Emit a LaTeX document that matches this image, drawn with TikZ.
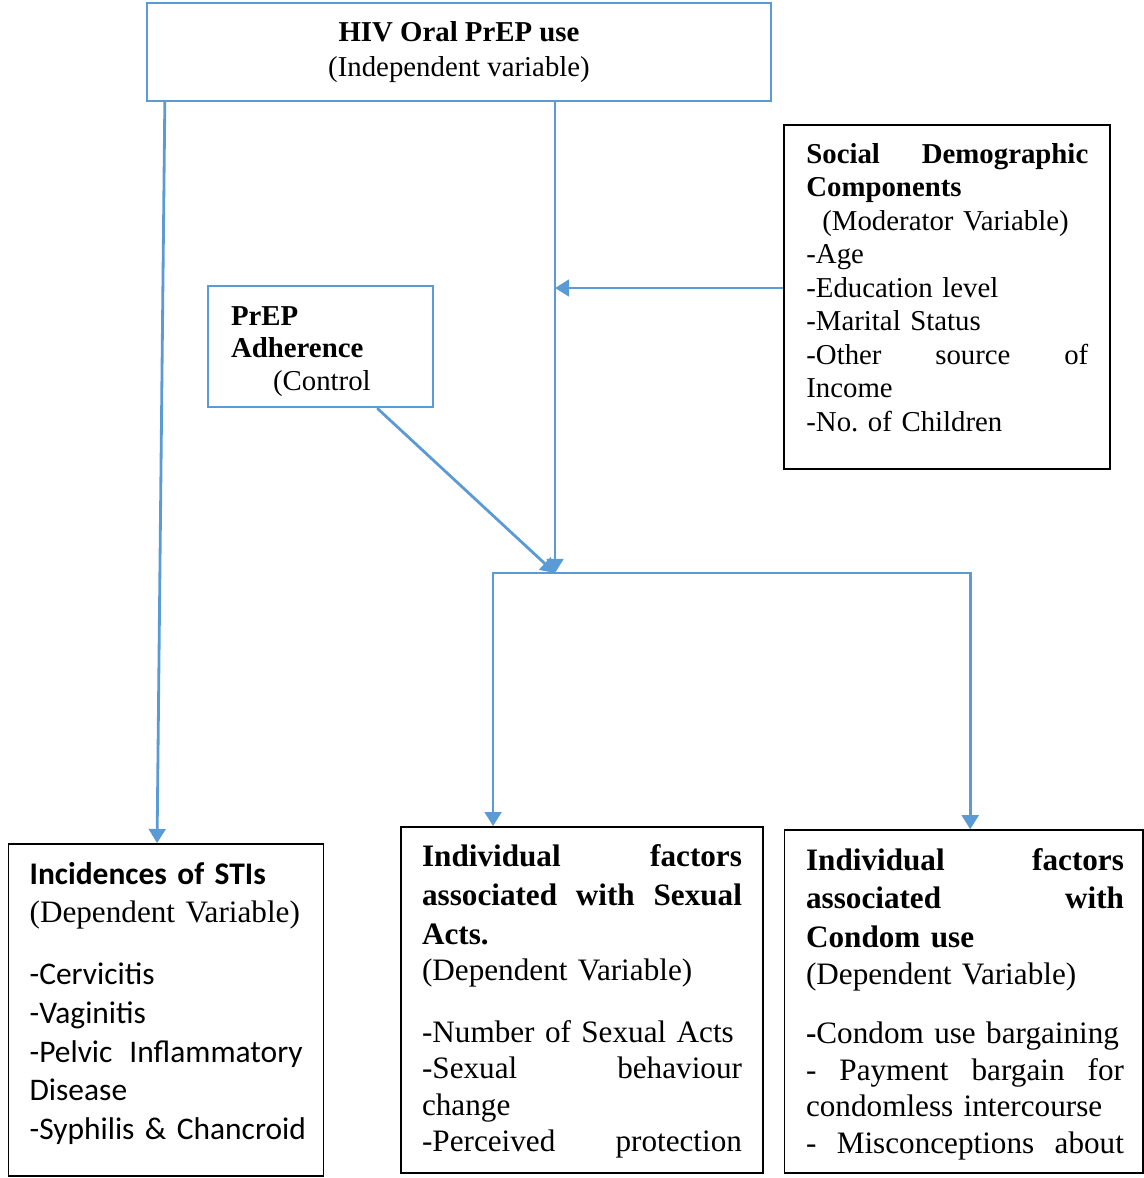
\documentclass[tikz,border=0pt]{standalone}
\usepackage{fontspec}
\setmainfont{Liberation Serif}
\newfontfamily\calibri{Carlito}
\usetikzlibrary{arrows, arrows.meta}
\usetikzlibrary{calc}
\definecolor{lineblue}{HTML}{5B9BD5}
\frenchspacing

\begin{document}
\begin{tikzpicture}[x=0.02cm, y=-0.02cm,
    bluebox/.style={rectangle, draw=lineblue, line width=1.4pt, inner sep=0pt},
    blackbox/.style={rectangle, draw, line width=1.1pt, inner sep=0pt},
    boxtext/.style={anchor=base west, inner sep=0pt, align=left},
    flow/.style={draw=lineblue, line width=1.6pt, -{Triangle[length=8pt, width=9.5pt]}}]
  \useasboundingbox (0,0) rectangle (1144,1178);

  % boxes
  \node[bluebox, minimum width=12.48cm, minimum height=1.96cm, align=center,
        font=\fontsize{16.4}{19.8}\selectfont] (hiv) at (459,52)
    {\textbf{HIV Oral PrEP use}\\(Independent variable)};
  \node[blackbox, minimum width=6.52cm, minimum height=6.88cm] (soc) at (947,297) {};
  \node[bluebox, minimum width=4.5cm, minimum height=2.42cm] (prep) at (320.5,346.5) {};
  \node[blackbox, minimum width=6.3cm, minimum height=6.64cm] (sti) at (166,1010) {};
  \node[blackbox, minimum width=7.24cm, minimum height=6.92cm] (mid) at (582,1000) {};
  \node[blackbox, minimum width=7.17cm, minimum height=6.86cm] (cond) at (963.7,1001.7) {};

  % texts
  \node[boxtext, text width=5.64cm, font=\fontsize{16.4}{19.1}\selectfont] (soctext) at (806,163)
    {\textbf{Social\hfill Demographic}\\
     \textbf{Components}\\
     \hspace*{0.32cm}(Moderator Variable)\\
     -Age\\
     -Education level\\
     -Marital Status\\
     -Other\hfill source\hfill of\\
     Income\\
     -No. of Children};
  \node[boxtext, text width=4cm, font=\fontsize{16.4}{18.7}\selectfont] (preptext) at (230.7,325)
    {\textbf{PrEP}\\
     \textbf{Adherence}\\
     \hspace*{0.84cm}(Control};
  \node[boxtext, text width=5.46cm, font=\calibri\fontsize{17.9}{22.1}\selectfont] (stitext) at (29.3,884)
    {\textbf{Incidences of STIs}\\
     {\rmfamily\fontsize{17.75}{22.1}\selectfont (Dependent Variable)}\\[13pt]
     -Cervicitis\\
     -Vaginitis\\
     -Pelvic\hfill Inflammatory\\
     Disease\\
     \mbox{-Syphilis \& Chancroid}};
  \node[boxtext, text width=6.4cm, font=\fontsize{17.75}{20.8}\selectfont] (midtext) at (421.7,866.7)
    {\textbf{Individual\hfill factors}\\[1.3pt]
     \textbf{associated\hfill with\hfill Sexual}\\[1.3pt]
     \textbf{Acts.}\\
     (Dependent Variable)\\[14pt]
     -Number of Sexual Acts\\
     -Sexual\hfill behaviour\\
     change\\
     -Perceived\hfill protection};
  \node[boxtext, text width=6.36cm, font=\fontsize{17.75}{20.8}\selectfont] (condtext) at (805.7,870)
    {\textbf{Individual\hfill factors}\\[1.3pt]
     \textbf{associated\hfill with}\\[1.3pt]
     \textbf{Condom use}\\
     (Dependent Variable)\\[13pt]
     \textbf{-}Condom use bargaining\\
     -\hfill Payment\hfill bargain\hfill for\\
     condomless intercourse\\
     -\hfill Misconceptions\hfill about};

  % connectors
  \coordinate (j) at (555,573);
  \coordinate (socin) at ($(soc.west)+(0,-9)$);
  \draw[flow] ($(hiv.south west)+(19,0)$) -- ($(sti.north west)+(149.5,0)$);
  \draw[flow] (hiv.south -| j) -- (j);
  \draw[flow] (socin) -- (socin -| j);
  \draw[flow] ($(prep.south east)+(-57,0)$) -- (j);
  \draw[flow] (j) -| ($(mid.north west)+(93,0)$);
  \draw[flow] (j) -| ($(cond.north west)+(186.7,0)$);
\end{tikzpicture}
\end{document}
